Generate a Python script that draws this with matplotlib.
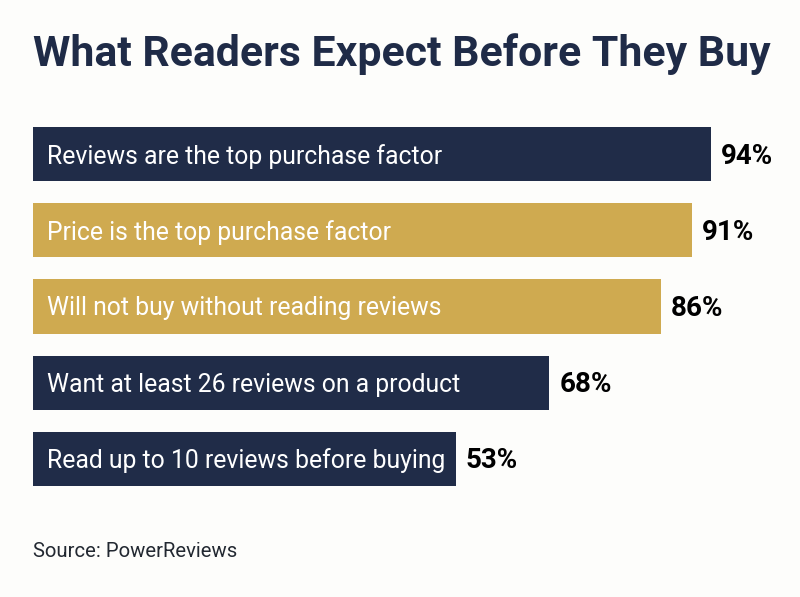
import matplotlib
matplotlib.use("Agg")
import matplotlib.pyplot as plt
import numpy as np

title = "What Readers Expect Before They Buy"
labels = [
    "Reviews are the top purchase factor",
    "Price is the top purchase factor",
    "Will not buy without reading reviews",
    "Want at least 26 reviews on a product",
    "Read up to 10 reviews before buying",
]
values = [94, 91, 86, 68, 53]
groups = ["navy", "gold", "gold", "navy", "navy"]
source = "Source: PowerReviews"

palette = {"navy": "#202c48", "gold": "#cfaa50"}
bg = "#fdfdfb"
base = -15

W, H = 800, 597
fig = plt.figure(figsize=(W / 100, H / 100), dpi=100, facecolor=bg)
plt.rcParams["font.family"] = ["Roboto", "DejaVu Sans"]

ax = fig.add_axes([33 / W, 1 - 497 / H, (W - 33) / W, 381 / H])
ax.set_facecolor(bg)
y = np.arange(len(values))
vals = np.array(values, dtype=float)
ax.barh(y, vals - base, left=base, height=0.71,
        color=[palette[g] for g in groups])
ax.set_xlim(base, base + (W - 33) / 6.22)
ax.set_ylim(len(values) - 0.5, -0.5)
ax.axis("off")

pt = 72 / 100
for i, (lab, v) in enumerate(zip(labels, values)):
    ax.annotate(lab, xy=(base, i), xytext=(14 * pt, -2 * pt), textcoords="offset points",
                ha="left", va="center", color="white", fontsize=17.8)
    ax.annotate(f"{v}%", xy=(v, i), xytext=(10 * pt, -2 * pt), textcoords="offset points",
                ha="left", va="center", color="black", fontsize=20, fontweight="bold")

fig.text(33 / W, 1 - 66 / H, title, ha="left", va="baseline",
         fontsize=30.8, fontweight="bold", color="#1f2b47")
fig.text(33 / W, 1 - 557 / H, source, ha="left", va="baseline",
         fontsize=14.6, color="#222831")

fig.savefig("out.png", dpi=100, facecolor=bg)
